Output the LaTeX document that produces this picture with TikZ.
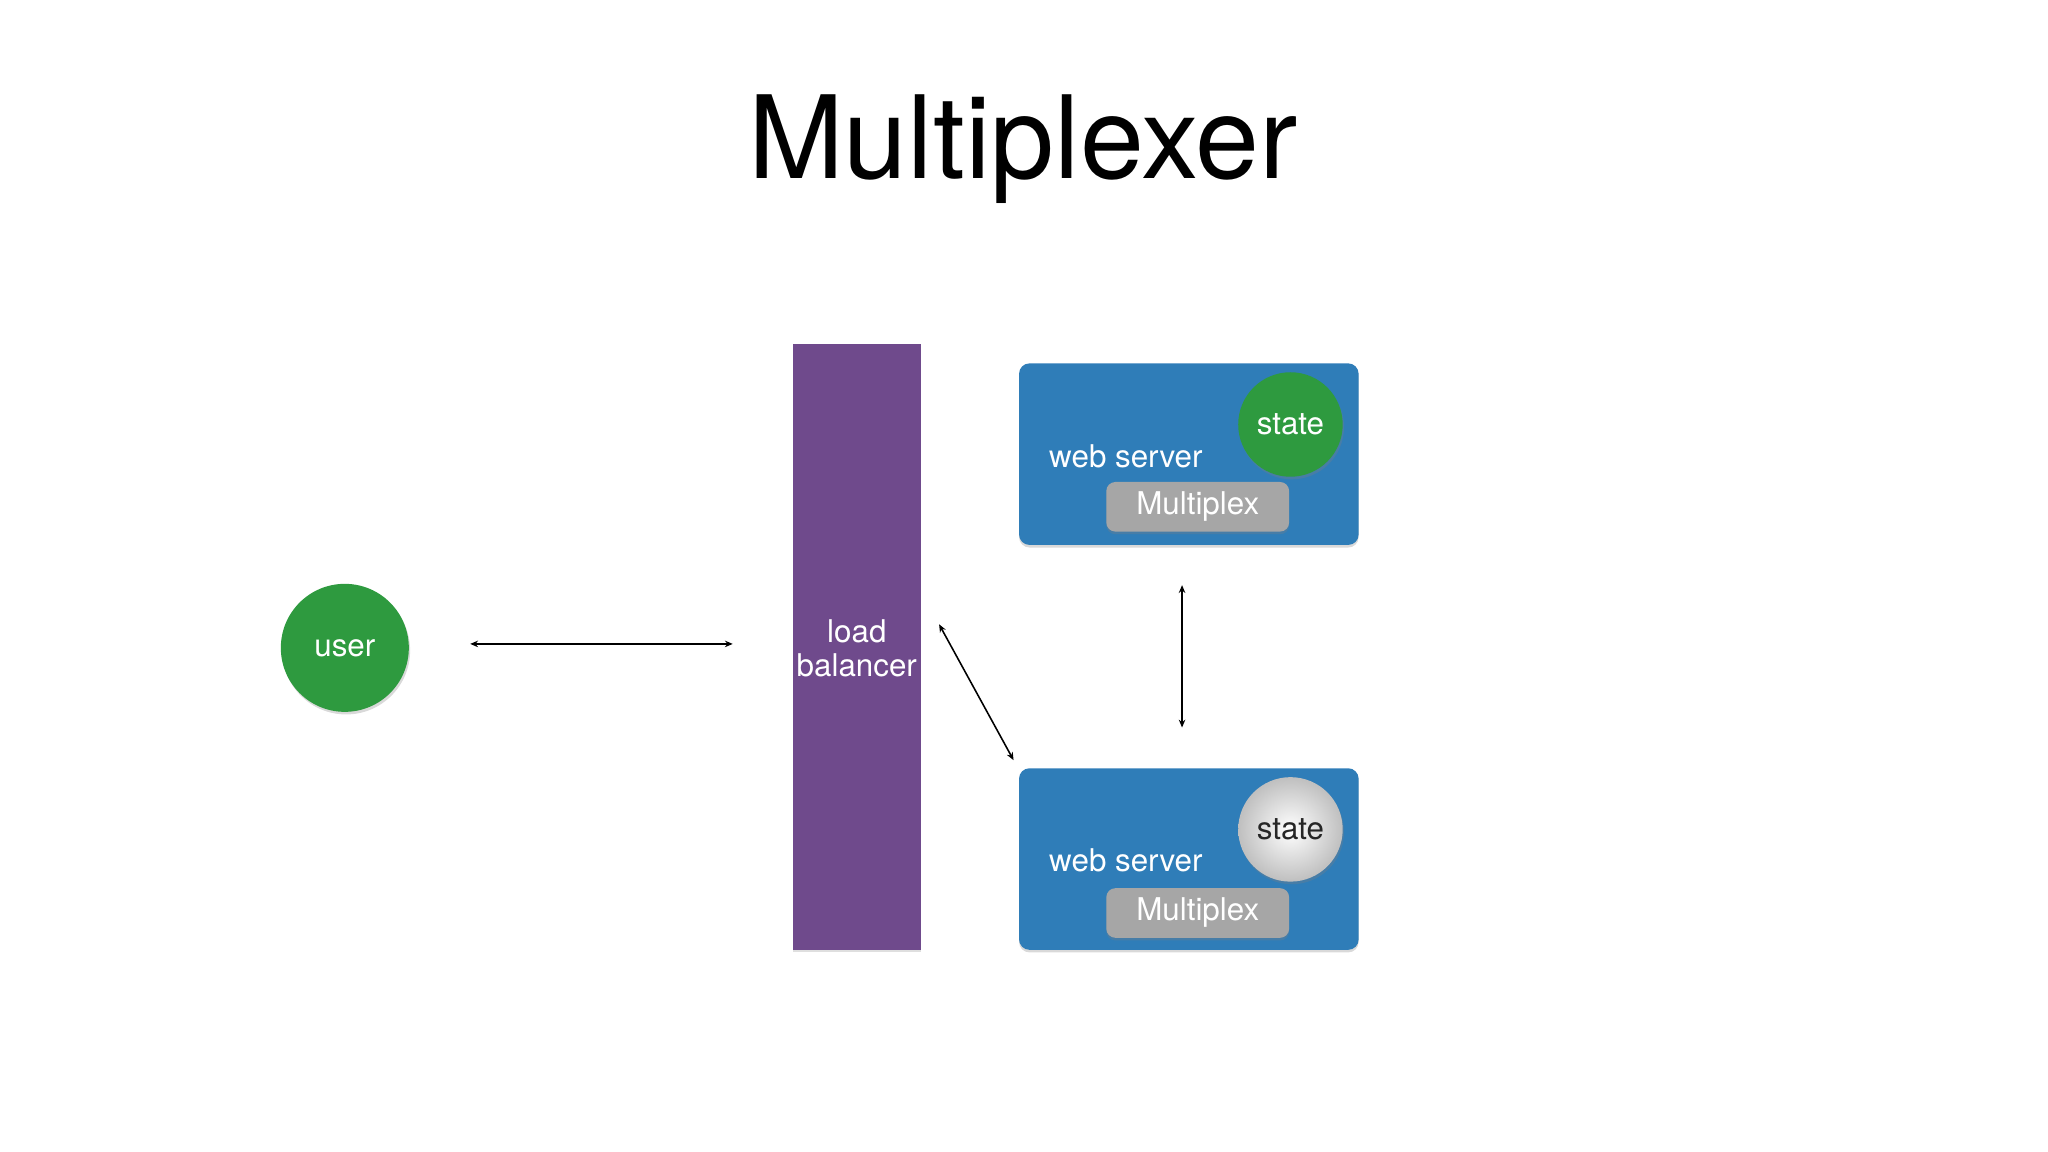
\documentclass[tikz,border=0pt]{standalone}
\usepackage{fontspec}
\setmainfont{TeX Gyre Heros}
\usetikzlibrary{arrows.meta,shadows}
\definecolor{wsblue}{HTML}{2F7DB8}
\definecolor{lbpurple}{HTML}{6F4A8C}
\definecolor{stgreen}{HTML}{2E9A3F}
\definecolor{mxgray}{HTML}{A6A6A6}
\begin{document}
\begin{tikzpicture}[x=1pt,y=-1pt,
  lbl/.style={font=\fontsize{24}{28}\selectfont},
  ws/.style={fill=wsblue,rounded corners=8pt,draw=none,drop shadow={opacity=0.3,shadow xshift=0pt,shadow yshift=-2pt}},
  st/.style={circle,minimum size=80pt,inner sep=0pt,lbl,drop shadow={opacity=0.3,shadow xshift=1pt,shadow yshift=-2pt}},
  mx/.style={rounded corners=7pt,fill=mxgray,minimum width=140pt,minimum height=38pt,inner sep=0pt,text=white,lbl,drop shadow={opacity=0.3,shadow xshift=0pt,shadow yshift=-2pt}},
  arr/.style={{Stealth[length=6pt,width=5pt]}-{Stealth[length=6pt,width=5pt]},line width=1.2pt}]
\useasboundingbox (0,0) rectangle (1568,882);
\node[font=\fontsize{88}{100}\selectfont] (title) at (783,114) {Multiplexer};
\node[circle,fill=stgreen,minimum size=98pt,inner sep=0pt,text=white,lbl,drop shadow={opacity=0.3,shadow xshift=1pt,shadow yshift=-2pt}] (user) at (264,496) {user};
\node[fill=lbpurple,minimum width=98pt,minimum height=464pt,inner sep=0pt,anchor=north west,drop shadow={opacity=0.25,shadow xshift=0pt,shadow yshift=-2pt}] (lb) at (607,263) {};
\node[lbl,text=white,align=center] (lbt) at (656,496) {load\\[-2pt]balancer};
% web server 1
\node[ws,minimum width=260pt,minimum height=139pt,anchor=north west,inner sep=0pt] (ws1) at (780,278) {};
\node[lbl,text=white] (ws1t) at (862,349) {web server};
\node[st,fill=stgreen,text=white] (st1) at (988,325) {state};
\node[mx] (mx1) at (917,388) {\raisebox{-2pt}{Multiplex}};
% web server 2
\node[ws,minimum width=260pt,minimum height=139pt,anchor=north west,inner sep=0pt] (ws2) at (780,588) {};
\node[lbl,text=white] (ws2t) at (862,659) {web server};
\node[st,inner color=white,outer color=black!25,text=black!85] (st2) at (988,635) {state};
\node[mx] (mx2) at (917,699) {\raisebox{-2pt}{Multiplex}};
% arrows
\coordinate (a1) at (360,493); \coordinate (a2) at (561,493);
\coordinate (b1) at (905,448); \coordinate (b2) at (905,557);
\coordinate (c1) at (719,478); \coordinate (c2) at (776,582);
\draw[arr] (a1) -- (a2);
\draw[arr] (b1) -- (b2);
\draw[arr] (c1) -- (c2);
\end{tikzpicture}
\end{document}
